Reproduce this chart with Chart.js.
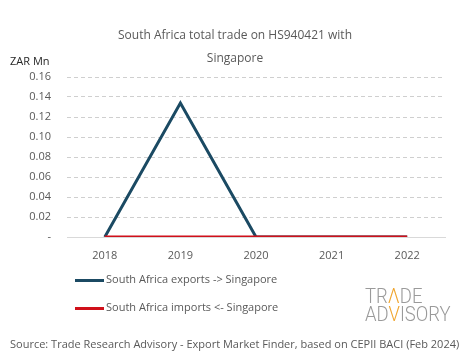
<!DOCTYPE html>
<html>
<head>
<meta charset="utf-8">
<script src="https://cdn.jsdelivr.net/npm/chart.js@4"></script>
<style>
  html, body { margin: 0; padding: 0; background: #fff; }
  #wrap { position: relative; width: 465px; height: 359px; font-family: "Open Sans", sans-serif; color: #595959; }
  #chart { position: absolute; left: 0; top: 0; }
  .leg { position: absolute; left: 75px; font-size: 11px; line-height: 14px; white-space: nowrap; }
  .leg i { display: inline-block; width: 29px; height: 3px; vertical-align: middle; margin-right: 2px; }
  #logo { position: absolute; left: 365px; top: 287px; font-family: Roboto, sans-serif; font-weight: 300; font-size: 21px; line-height: 18px; color: #9a9a9a; transform: scaleX(0.88); transform-origin: left top; }
  #logo b { font-weight: 300; color: #f0a630; }
  #source { position: absolute; left: 10px; top: 336px; font-size: 11px; white-space: nowrap; }
</style>
</head>
<body>
<div id="wrap">
  <canvas id="chart" width="465" height="359"></canvas>
  <div class="leg" style="top:272px"><i style="background:#1b4a63"></i>South Africa exports -&gt; Singapore</div>
  <div class="leg" style="top:300px"><i style="background:#d0101a"></i>South Africa imports &lt;- Singapore</div>
  <div id="logo">TR<b>&#923;</b>DE<br>AD<b>V</b>ISORY</div>
  <div id="source">Source: Trade Research Advisory - Export Market Finder, based on CEPII BACI (Feb 2024)</div>
</div>
<script>
const years = ['2018', '2019', '2020', '2021', '2022'];
const exportsZar = [0, 0.134, 0, 0, 0];
const importsZar = [0, 0, 0, 0, 0];
const titleLines = ['South Africa total trade on HS940421 with', 'Singapore'];
const unitLabel = 'ZAR Mn';

const textColor = '#595959';
const fontFamily = '"Open Sans", sans-serif';

// title and unit label drawn by hand, chart area is kept fixed
const headerPlugin = {
    id: 'header',
    afterDraw(chart) {
        const ctx = chart.ctx;
        ctx.save();
        ctx.fillStyle = textColor;
        ctx.font = '12px ' + fontFamily;
        ctx.textAlign = 'center';
        ctx.textBaseline = 'middle';
        ctx.fillText(titleLines[0], 235, 36);
        ctx.fillText(titleLines[1], 235, 59);
        ctx.fillStyle = '#262626';
        ctx.font = '11px ' + fontFamily;
        ctx.textAlign = 'left';
        ctx.fillText(unitLabel, 10, 62);
        ctx.restore();
    }
};

const ctx = document.getElementById('chart').getContext('2d');

new Chart(ctx, {
    type: 'line',
    data: {
        labels: years,
        datasets: [{
            label: 'South Africa exports -> Singapore',
            data: exportsZar,
            borderColor: '#1b4a63',
            borderWidth: 3,
            pointRadius: 0,
            tension: 0,
            order: 2
        }, {
            label: 'South Africa imports <- Singapore',
            data: importsZar,
            borderColor: '#d0101a',
            borderWidth: 3,
            pointRadius: 0,
            tension: 0,
            order: 1
        }]
    },
    options: {
        responsive: false,
        animation: false,
        layout: {
            padding: { top: 77, right: 20, bottom: 92, left: 0 }
        },
        scales: {
            y: {
                min: 0,
                max: 0.16,
                afterFit: (scale) => { scale.width = 67; },
                ticks: {
                    stepSize: 0.02,
                    color: textColor,
                    padding: 16,
                    font: { size: 11, family: fontFamily },
                    callback: (v) => v === 0 ? '-' : v.toFixed(2)
                },
                grid: {
                    color: (c) => c.tick && c.tick.value === 0 ? 'rgba(0,0,0,0)' : '#cfcfcf',
                    drawTicks: false
                },
                border: { display: false, dash: [4, 3] }
            },
            x: {
                offset: true,
                afterFit: (scale) => { scale.height = 30; },
                ticks: {
                    color: textColor,
                    padding: 12,
                    font: { size: 11, family: fontFamily },
                    maxRotation: 0
                },
                grid: { display: false, drawTicks: false },
                border: { display: true, color: '#d9d9d9', width: 1 }
            }
        },
        plugins: {
            legend: { display: false },
            tooltip: { enabled: false }
        }
    },
    plugins: [headerPlugin]
});
</script>
</body>
</html>
